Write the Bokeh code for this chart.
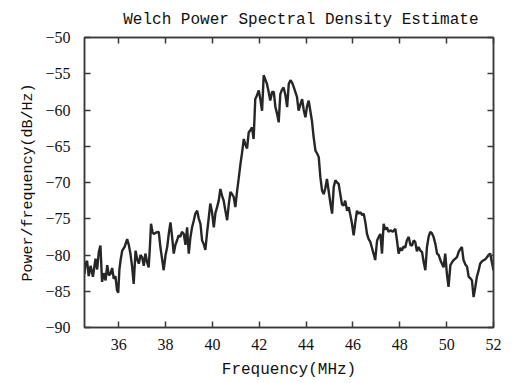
from bokeh.plotting import figure
from bokeh.models import LinearAxis, Range1d, FixedTicker, Title, CustomJSTickFormatter
from bokeh.embed import file_html
from bokeh.resources import INLINE

freq = [34.54, 34.58, 34.65, 34.72, 34.80, 34.90, 35.01, 35.08, 35.15, 35.22, 35.29, 35.36, 35.44, 35.51,
        35.58, 35.65, 35.72, 35.79, 35.86, 35.93, 35.98, 36.03, 36.08, 36.15, 36.25, 36.36, 36.43, 36.50,
        36.57, 36.64, 36.72, 36.79, 36.86, 36.93, 37.00, 37.07, 37.14, 37.21, 37.28, 37.33, 37.38, 37.44,
        37.50, 37.60, 37.71, 37.78, 37.85, 37.92, 38.00, 38.07, 38.14, 38.21, 38.28, 38.35, 38.42, 38.49,
        38.56, 38.63, 38.70, 38.78, 38.85, 38.92, 38.99, 39.06, 39.13, 39.20, 39.27, 39.35, 39.42, 39.49,
        39.56, 39.63, 39.70, 39.77, 39.84, 39.91, 39.98, 40.06, 40.13, 40.20, 40.27, 40.34, 40.41, 40.48,
        40.55, 40.63, 40.70, 40.77, 40.84, 40.91, 40.98, 41.05, 41.12, 41.20, 41.27, 41.34, 41.41, 41.48,
        41.55, 41.62, 41.69, 41.76, 41.83, 41.90, 41.98, 42.05, 42.12, 42.19, 42.26, 42.33, 42.40, 42.47,
        42.55, 42.62, 42.69, 42.76, 42.83,
        42.90, 42.97, 43.04, 43.12, 43.19, 43.26, 43.33, 43.40, 43.47, 43.54, 43.61, 43.68, 43.76, 43.83,
        43.90, 43.97, 44.04, 44.11, 44.18, 44.25, 44.32, 44.40, 44.47, 44.54, 44.61, 44.68, 44.75, 44.82,
        44.89, 44.96, 45.04, 45.11, 45.18, 45.25, 45.32, 45.39, 45.46, 45.53, 45.60, 45.67, 45.75, 45.82,
        45.89, 45.96, 46.03, 46.10, 46.17, 46.24, 46.32, 46.39, 46.46, 46.53, 46.60, 46.67, 46.74, 46.81,
        46.88, 46.95, 47.03, 47.10, 47.17, 47.24, 47.31, 47.38, 47.45, 47.52, 47.60, 47.70, 47.81, 47.88,
        47.95, 48.02, 48.09, 48.16, 48.23, 48.30, 48.38, 48.45, 48.52, 48.59, 48.66, 48.73, 48.80, 48.88,
        48.95, 49.02, 49.09, 49.16, 49.23, 49.30, 49.37, 49.44, 49.52, 49.59, 49.66, 49.73, 49.80, 49.87,
        49.94, 50.01, 50.08, 50.16, 50.23, 50.30, 50.37, 50.44, 50.52, 50.58, 50.65, 50.72, 50.80, 50.87,
        50.94, 51.01, 51.08, 51.15, 51.22, 51.29, 51.36, 51.43, 51.50, 51.58, 51.65, 51.72, 51.79, 51.86,
        51.93, 52.00]

psd = [-82.6, -81.2, -80.8, -82.9, -81.5, -83.0, -80.5, -82.0, -79.6, -78.7, -83.7, -82.5, -83.5, -81.4,
       -82.8, -82.6, -81.8, -83.3, -82.9, -84.9, -85.2, -82.0, -80.7, -79.4, -78.9, -77.8, -78.6, -79.8,
       -81.5, -84.0, -79.4, -80.6, -81.2, -80.0, -80.3, -81.5, -79.8, -81.0, -81.7, -79.0, -75.7, -76.8,
       -77.1, -76.9, -76.8, -78.9, -80.5, -82.1, -80.0, -78.9, -77.0, -75.5, -77.5, -79.8, -78.6, -78.0,
       -77.3, -77.5, -76.8, -77.1, -78.6, -76.2, -79.8, -77.6, -76.2, -75.3, -74.3, -73.9, -75.0, -75.7,
       -78.0, -78.5, -79.3, -77.0, -75.0, -72.9, -74.0, -76.2, -74.2, -73.4, -72.5, -70.9, -71.8, -72.5,
       -73.8, -75.2, -73.0, -71.3, -71.6, -72.0, -73.4, -71.3, -69.5, -67.4, -65.8, -64.0, -64.8, -65.3,
       -63.1, -62.8, -62.4, -64.0, -58.5, -58.0, -57.3, -58.6, -60.1, -55.2, -55.8, -56.4, -57.5, -58.7,
       -57.5, -57.5, -59.6, -60.5, -61.7,
       -57.8, -57.2, -56.9, -58.0, -59.6, -56.4, -55.9, -56.2, -56.8, -57.5, -58.2, -60.1, -59.2, -58.5,
       -60.0, -61.0, -59.5, -58.7, -60.1, -61.5, -63.7, -65.6, -66.0, -66.5, -69.3, -71.1, -71.6, -70.8,
       -69.5, -71.1, -72.9, -74.3, -70.6, -69.7, -70.0, -70.2, -71.6, -73.0, -73.2, -72.5, -73.9, -73.4,
       -74.5, -75.7, -77.3, -75.5, -73.9, -74.3, -74.1, -74.5, -74.3, -75.5, -77.1, -77.8, -78.2, -79.0,
       -79.8, -80.7, -78.0, -77.5, -77.1, -79.8, -75.7, -76.5, -76.2, -76.8, -76.6, -76.8, -76.4, -78.0,
       -79.8, -79.0, -79.4, -78.8, -79.0, -78.0, -77.5, -78.6, -78.7, -78.0, -78.2, -79.5, -78.9, -79.4,
       -79.6, -81.0, -82.1, -78.9, -77.5, -76.8, -77.0, -77.5, -78.5, -79.8, -80.0, -80.7, -81.2, -81.7,
       -79.8, -82.6, -84.4, -81.4, -81.0, -80.7, -80.5, -80.3, -79.5, -79.2, -78.9, -80.7, -81.3, -81.6,
       -83.0, -83.2, -83.5, -85.8, -84.5, -83.0, -82.2, -81.2, -80.9, -80.7, -80.6, -80.3, -80.0, -79.8,
       -81.0, -82.1]

x_ticks = [36, 38, 40, 42, 44, 46, 48, 50, 52]
y_ticks = [-90, -85, -80, -75, -70, -65, -60, -55, -50]
y_tick_labels = {t: "\u2212" + str(abs(t)) for t in y_ticks}

title_text = "Welch Power Spectral Density Estimate"
x_label = "Frequency(MHz)"
y_label = "Power/frequency(dB/Hz)"

AX = "#3a3a3a"
p = figure(width=515, height=383, output_backend="svg", toolbar_location=None,
           x_range=Range1d(34.54, 52), y_range=Range1d(-90, -50),
           min_border_left=84, min_border_right=22, min_border_top=37, min_border_bottom=56)
p.title = None

# tick-only axes on top and right (added before the title so they hug the frame)
blank = CustomJSTickFormatter(code="return '';")
top = LinearAxis(ticker=FixedTicker(ticks=x_ticks), formatter=blank,
                 major_tick_in=6, major_tick_out=0, minor_tick_line_color=None,
                 axis_line_color=AX, axis_line_width=1.5, major_tick_line_color=AX,
                 major_tick_line_width=1.5, major_label_standoff=0)
right = LinearAxis(ticker=FixedTicker(ticks=y_ticks), formatter=blank,
                   major_tick_in=6, major_tick_out=0, minor_tick_line_color=None,
                   axis_line_color=AX, axis_line_width=1.5, major_tick_line_color=AX,
                   major_tick_line_width=1.5, major_label_standoff=0)
p.add_layout(top, "above")
p.add_layout(right, "right")

p.add_layout(Title(text=title_text, align="right", text_font="Liberation Mono",
                   text_font_size="16px", text_font_style="normal", text_color="#111111",
                   offset=15, standoff=17), "above")

p.line(freq, psd, line_color="#262626", line_width=2.4)

p.xgrid.visible = False
p.ygrid.visible = False
p.outline_line_color = AX
p.outline_line_width = 1.5
p.background_fill_color = "white"
p.border_fill_color = "white"

for ax in p.below:
    ax.ticker = FixedTicker(ticks=x_ticks)
    ax.axis_label = x_label
for ax in p.left:
    ax.ticker = FixedTicker(ticks=y_ticks)
    ax.major_label_overrides = y_tick_labels
    ax.axis_label = y_label

for ax in p.below + p.left:
    ax.axis_line_color = AX
    ax.axis_line_width = 1.5
    ax.major_tick_line_color = AX
    ax.major_tick_line_width = 1.5
    ax.major_tick_in = 6
    ax.major_tick_out = 0
    ax.minor_tick_line_color = None
    ax.major_label_text_font = "Liberation Serif"
    ax.major_label_text_font_size = "16px"
    ax.major_label_text_color = "#111111"
    ax.axis_label_text_font = "Liberation Mono"
    ax.axis_label_text_font_style = "normal"
    ax.axis_label_text_color = "#111111"

for ax in p.below:
    ax.major_label_standoff = 11
    ax.axis_label_standoff = 8
    ax.axis_label_text_font_size = "16px"
for ax in p.left:
    ax.major_label_standoff = 14
    ax.axis_label_standoff = 5
    ax.axis_label_text_font_size = "15px"

open("out.html", "w").write(file_html(p, INLINE))
